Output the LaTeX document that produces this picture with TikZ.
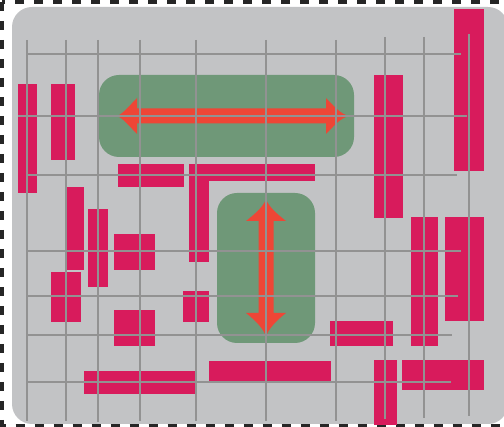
\documentclass[tikz,border=0pt]{standalone}
\usepackage{xcolor}
\definecolor{bggray}{HTML}{C2C3C5}
\definecolor{zonegreen}{HTML}{6F9878}
\definecolor{cellpink}{HTML}{D81B5C}
\definecolor{arrowred}{HTML}{EE4636}
\definecolor{gridgray}{HTML}{929292}

\begin{document}
\begin{tikzpicture}[
  x=1pt, y=-1pt,
  frame/.style={draw=black!85, line width=3.5pt, dash pattern=on 9pt off 10pt},
  board/.style={fill=bggray, rounded corners=20pt},
  zone/.style={fill=zonegreen, rounded corners=20pt},
  cell/.style={fill=cellpink},
  gridline/.style={draw=gridgray, line width=2pt},
  move/.style={fill=arrowred}
]
\clip (0,0) rectangle (504,427);

% Outer frame and board
\draw[frame] (2,2) rectangle (530,425.5);
\fill[board] (12,7) rectangle (508,424);

% Free zones
\fill[zone] (99,75) rectangle (354,157);
\fill[zone] (217,193) rectangle (315,343);

% Placed cells
\foreach \xa/\ya/\xb/\yb in {
  18/84/37/193, 51/84/75/160, 118/164/184/187,
  189/164/209/262, 189/164/315/181,
  67/187/84/270, 88/209/108/287, 114/234/155/270,
  51/272/81/322, 183/291/209/322, 114/310/155/346,
  84/371/196/394, 209/361/331/381,
  374/75/403/218, 454/9/484/171, 411/217/438/346,
  445/217/484/321, 330/321/393/346,
  374/360/397/425, 402/360/484/390}
  \fill[cell] (\xa,\ya) rectangle (\xb,\yb);

% Move arrows
\fill[move] (117,116) .. controls (123,114) and (130,105) .. (137,98)
  -- (137,108.5) -- (326,108.5) -- (326,98)
  .. controls (333,105) and (340,114) .. (349,116)
  .. controls (340,118) and (333,127) .. (326,134)
  -- (326,123.5) -- (137,123.5) -- (137,134)
  .. controls (130,127) and (123,118) .. cycle;
\fill[move] (266,199) .. controls (268,206) and (277,214) .. (286,221)
  -- (273.5,221) -- (273.5,313) -- (286,313)
  .. controls (277,320) and (268,329) .. (266,337)
  .. controls (264,329) and (255,320) .. (246,313)
  -- (258.5,313) -- (258.5,221) -- (246,221)
  .. controls (255,214) and (264,206) .. cycle;

% Routing grid
\foreach \gx/\gt/\gb in {27/40/421, 66/40/421, 98/40/422, 140/40/421,
  196/40/421, 266/40/421, 336/40/421, 385/37/419, 424/37/418, 469/34/416}
  \draw[gridline] (\gx,\gt) -- (\gx,\gb);
\foreach \gy/\gl/\gr in {54/28/461, 116/18/467, 175/28/457, 251/27/461,
  296/27/458, 335/27/452, 382/27/451}
  \draw[gridline] (\gl,\gy) -- (\gr,\gy);

\end{tikzpicture}
\end{document}
